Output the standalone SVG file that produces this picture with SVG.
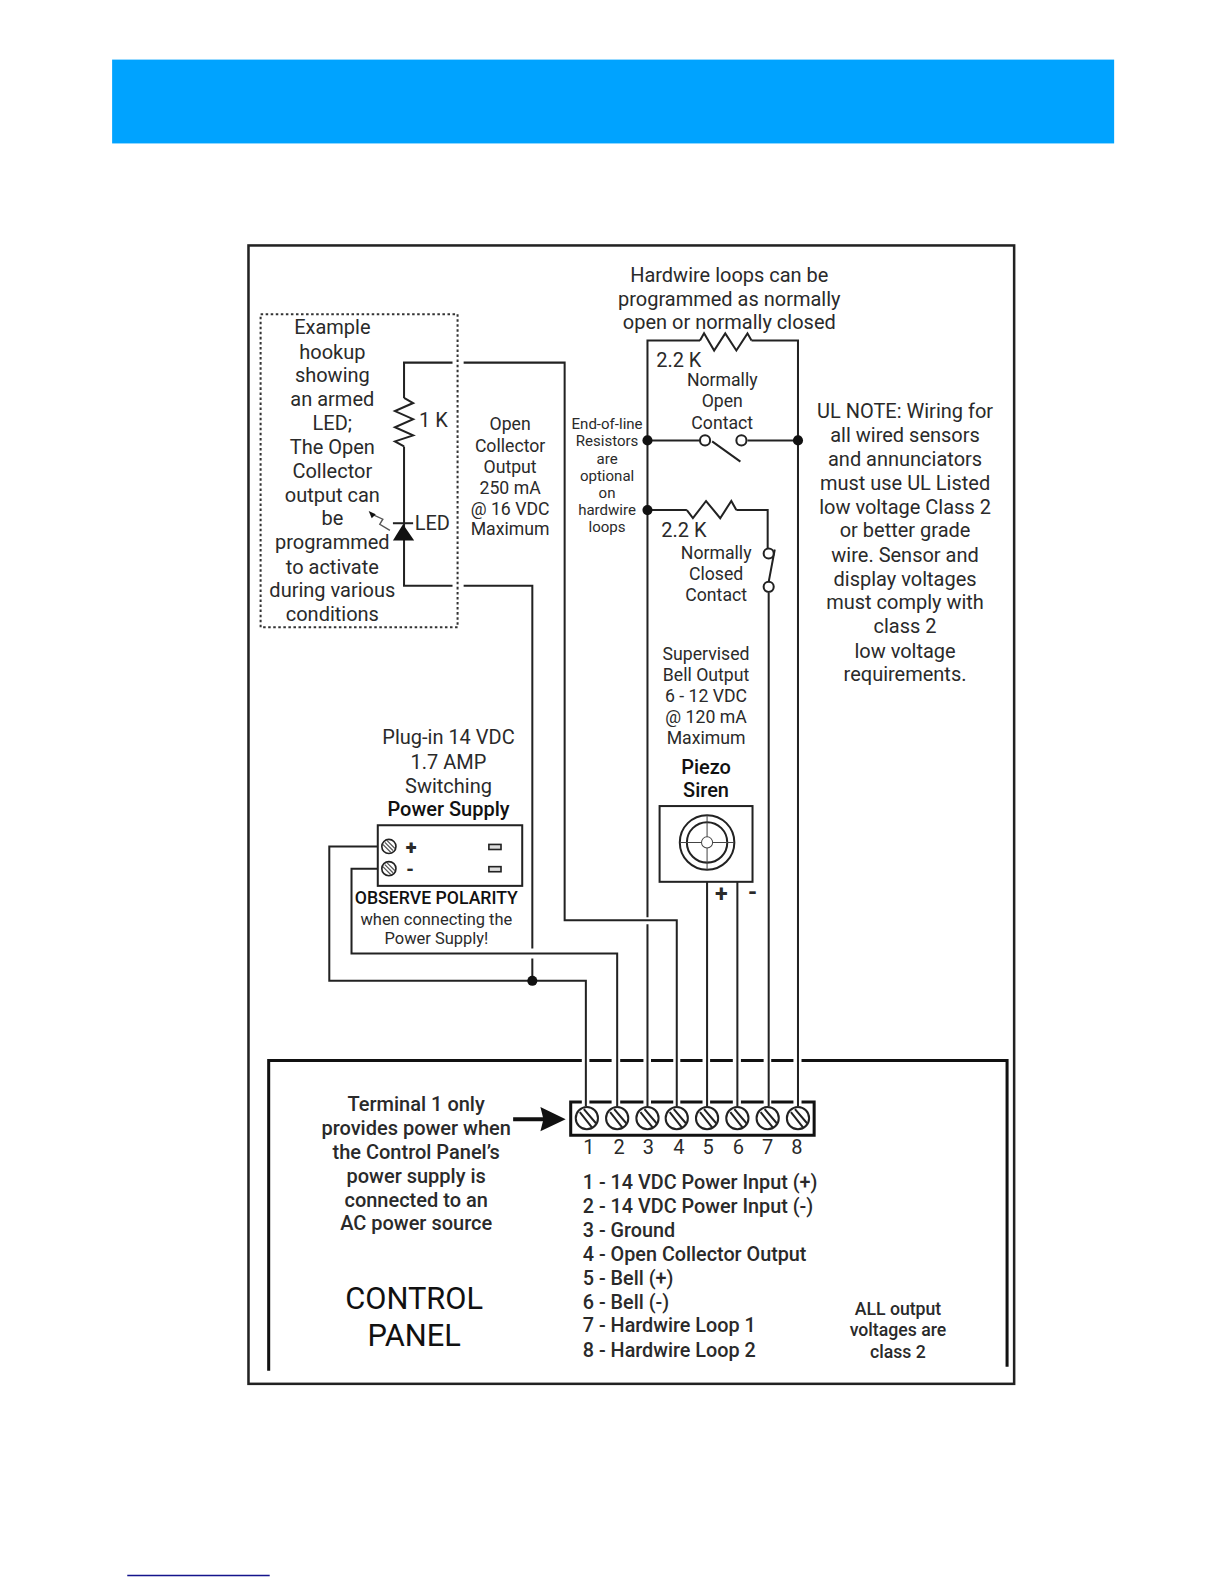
<svg xmlns="http://www.w3.org/2000/svg" width="1224" height="1584" viewBox="0 0 1224 1584">
<style>
text{font-family:"Roboto","Liberation Sans",sans-serif;fill:#2a2a2a;text-anchor:middle}
.a{font-size:19.8px}.b{font-size:17.5px}.c{font-size:14.9px}.l{font-size:19.6px;text-anchor:start}.k{font-weight:500;fill:#111}
.w{fill:none;stroke:#222;stroke-width:2}
.t{fill:none;stroke:#111;stroke-width:3}
</style>
<defs>
<g id="screw"><circle r="11" fill="#fff" stroke="#222" stroke-width="2"/><path d="M-7,-6 L5,9 M-3,-9 L9,5" stroke="#222" stroke-width="2" fill="none"/></g>
<g id="ps"><circle r="7" fill="#fff" stroke="#222" stroke-width="1.6"/><path d="M-4,-4 L4,4 M-6,-2 L2,6 M-2,-6 L6,2" stroke="#555" stroke-width="1.2"/></g>
</defs>
<g transform="scale(1.0101)">
<rect x="111" y="59" width="992" height="83" fill="#00a3ff"/>
<rect x="246" y="243" width="758" height="1127" fill="#fff" stroke="#222" stroke-width="2.5"/>
<rect x="126" y="1559" width="141" height="1.5" fill="#14148c"/>

<g id="connectors" class="w">
<path d="M448,359 H400 V394 M400,442 V580 H448 M459,359 H559 V911 H670 V1095"/>
<path d="M459,580 H527 V939 M527,949 V971"/>
<path d="M374,838 H326 V971 H580 V1095"/>
<path d="M374,860 H348 V944 H611 V1095"/>
<path d="M641,1095 V915 M641,908 V337 H693 M744,337 H790 V1095"/>
<path d="M641,436 H693 M705,437 L733,457 M740,436 H790"/>
<path d="M641,505 H680 M729,505 H760 V543 M767,544 L761,576 M761,587 V1095"/>
<path d="M700,873 V1095 M730,873 V1095"/>
<path d="M693,337 L697,330 L707,347 L718,330 L729,347 L740,330 L744,337"/>
<path d="M680,505 L686,513 L699,496 L713,513 L724,496 L729,505"/>
<path d="M400,394 L409,399 L391,407 L409,415 L391,423 L409,431 L391,437 L400,442"/>
<path d="M389,518 H409"/>
<path d="M386,525 L376,519 L379,514 L368,509" stroke-width="1.4" stroke="#555"/>
<circle cx="698" cy="436" r="5" fill="#fff"/><circle cx="734" cy="436" r="5" fill="#fff"/>
<circle cx="761" cy="548" r="5" fill="#fff"/><circle cx="761" cy="581" r="5" fill="#fff"/>
</g>
<g id="dots" fill="#111">
<circle cx="641" cy="436" r="5"/><circle cx="790" cy="436" r="5"/><circle cx="641" cy="505" r="5"/><circle cx="527" cy="971" r="5"/>
<path d="M399,519 L410,535 H389 Z"/><path d="M365,506 L372,509 L368,513 Z"/>
</g>

<g id="example-box">
<rect x="258" y="311" width="195" height="310" fill="none" stroke="#333" stroke-width="2" stroke-dasharray="2.5 2.5"/>
<g class="a"><text x="329" y="331">Example</text><text x="329" y="355">hookup</text><text x="329" y="378">showing</text><text x="329" y="402">an armed</text><text x="329" y="426">LED;</text><text x="329" y="449">The Open</text><text x="329" y="473">Collector</text><text x="329" y="497">output can</text><text x="329" y="520">be</text><text x="329" y="544">programmed</text><text x="329" y="568">to activate</text><text x="329" y="591">during various</text><text x="329" y="615">conditions</text></g>
<text class="a" x="429" y="423">1 K</text><text class="a" x="428" y="525">LED</text>
</g>

<g id="notes">
<g class="b"><text x="505" y="426">Open</text><text x="505" y="447">Collector</text><text x="505" y="468">Output</text><text x="505" y="489">250 mA</text><text x="505" y="510">@ 16 VDC</text><text x="505" y="530">Maximum</text></g>
<g class="a"><text x="722" y="279">Hardwire loops can be</text><text x="722" y="303">programmed as normally</text><text x="722" y="326">open or normally closed</text><text x="672" y="363">2.2 K</text><text x="677" y="532">2.2 K</text></g>
<g class="b"><text x="715" y="382">Normally</text><text x="715" y="403">Open</text><text x="715" y="425">Contact</text><text x="709" y="553">Normally</text><text x="709" y="574">Closed</text><text x="709" y="595">Contact</text></g>
<g class="c"><text x="601" y="425">End-of-line</text><text x="601" y="442">Resistors</text><text x="601" y="459">are</text><text x="601" y="476">optional</text><text x="601" y="493">on</text><text x="601" y="510">hardwire</text><text x="601" y="527">loops</text></g>
<g class="a"><text x="896" y="414">UL NOTE: Wiring for</text><text x="896" y="438">all wired sensors</text><text x="896" y="461">and annunciators</text><text x="896" y="485">must use UL Listed</text><text x="896" y="509">low voltage Class 2</text><text x="896" y="532">or better grade</text><text x="896" y="556">wire. Sensor and</text><text x="896" y="580">display voltages</text><text x="896" y="603">must comply with</text><text x="896" y="627">class 2</text><text x="896" y="651">low voltage</text><text x="896" y="674">requirements.</text></g>
<g class="b"><text x="699" y="653">Supervised</text><text x="699" y="674">Bell Output</text><text x="699" y="695">6 - 12 VDC</text><text x="699" y="716">@ 120 mA</text><text x="699" y="737">Maximum</text></g>
</g>

<g id="siren">
<text class="a k" x="699" y="766">Piezo</text><text class="a k" x="699" y="789">Siren</text>
<rect x="653" y="798" width="92" height="75" fill="#fff" stroke="#222" stroke-width="2"/>
<circle cx="700" cy="834" r="27" fill="none" stroke="#222" stroke-width="2"/><circle cx="700" cy="834" r="20" fill="none" stroke="#222" stroke-width="2"/>
<path d="M673,834 H727 M700,807 V861" stroke="#444" stroke-width="1"/><circle cx="700" cy="834" r="5.5" fill="#fff" stroke="#444"/>
<text x="714" y="893" font-size="23" font-weight="700">+</text><text x="745" y="891" font-size="23" font-weight="700">-</text>
</g>

<g id="power-supply">
<g class="a"><text x="444" y="737">Plug-in 14 VDC</text><text x="444" y="761">1.7 AMP</text><text x="444" y="785">Switching</text><text class="k" x="444" y="808">Power Supply</text></g>
<rect x="374" y="817" width="143" height="60" fill="#fff" stroke="#222" stroke-width="2"/>
<use href="#ps" x="385" y="838"/><use href="#ps" x="385" y="860"/>
<text x="407" y="845.500" font-size="20" font-weight="900">+</text><text x="406" y="867" font-size="18" font-weight="900">-</text>
<rect x="484" y="836" width="12" height="5" fill="#ddd" stroke="#222" stroke-width="1.6"/><rect x="484" y="858" width="12" height="5" fill="#ddd" stroke="#222" stroke-width="1.6"/>
<text class="b k" x="432" y="895">OBSERVE POLARITY</text>
<text x="432" y="916" font-size="16.3">when connecting the</text><text x="432" y="935" font-size="16.3">Power Supply!</text>
</g>

<g id="control-panel">
<path class="t" d="M266,1357 V1050 H576 M583.500,1050 H605.500 M614,1050 H637 M644.500,1050 H666.500 M673.500,1050 H695.500 M703,1050 H725.500 M733.500,1050 H756 M763.500,1050 H785.500 M793.500,1050 H997 V1353"/>
<path class="t" d="M576,1091 H565 V1124 H806 V1091 H793.500 M583.500,1091 H605.500 M614,1091 H637 M644.500,1091 H666.500 M673.500,1091 H695.500 M703,1091 H725.500 M733.500,1091 H756 M763.500,1091 H785.500"/>
<use href="#screw" x="581" y="1107"/><use href="#screw" x="611" y="1107"/><use href="#screw" x="641" y="1107"/><use href="#screw" x="670" y="1107"/><use href="#screw" x="700" y="1107"/><use href="#screw" x="730" y="1107"/><use href="#screw" x="760" y="1107"/><use href="#screw" x="790" y="1107"/>
<g class="a"><text x="583" y="1142">1</text><text x="613" y="1142">2</text><text x="642" y="1142">3</text><text x="672" y="1142">4</text><text x="701" y="1142">5</text><text x="731" y="1142">6</text><text x="760" y="1142">7</text><text x="789" y="1142">8</text></g>
<path d="M508,1108 H540" stroke="#111" stroke-width="4"/><path d="M535,1096 L560,1108 L535,1120 L538,1108 Z" fill="#111"/>
<g class="a k"><text x="412" y="1100">Terminal 1 only</text><text x="412" y="1124">provides power when</text><text x="412" y="1147">the Control Panel’s</text><text x="412" y="1171">power supply is</text><text x="412" y="1195">connected to an</text><text x="412" y="1218">AC power source</text></g>
<g class="k"><text class="l" x="577" y="1177">1 - 14 VDC Power Input (+)</text><text class="l" x="577" y="1201">2 - 14 VDC Power Input (-)</text><text class="l" x="577" y="1225">3 - Ground</text><text class="l" x="577" y="1248">4 - Open Collector Output</text><text class="l" x="577" y="1272">5 - Bell (+)</text><text class="l" x="577" y="1296">6 - Bell (-)</text><text class="l" x="577" y="1319">7 - Hardwire Loop 1</text><text class="l" x="577" y="1343">8 - Hardwire Loop 2</text></g>
<text x="410" y="1296" font-size="30.500" style="fill:#111">CONTROL</text><text x="410" y="1333" font-size="30.500" style="fill:#111">PANEL</text>
<g class="b k"><text x="889" y="1302">ALL output</text><text x="889" y="1323">voltages are</text><text x="889" y="1344">class 2</text></g>
</g>
</g>
</svg>
